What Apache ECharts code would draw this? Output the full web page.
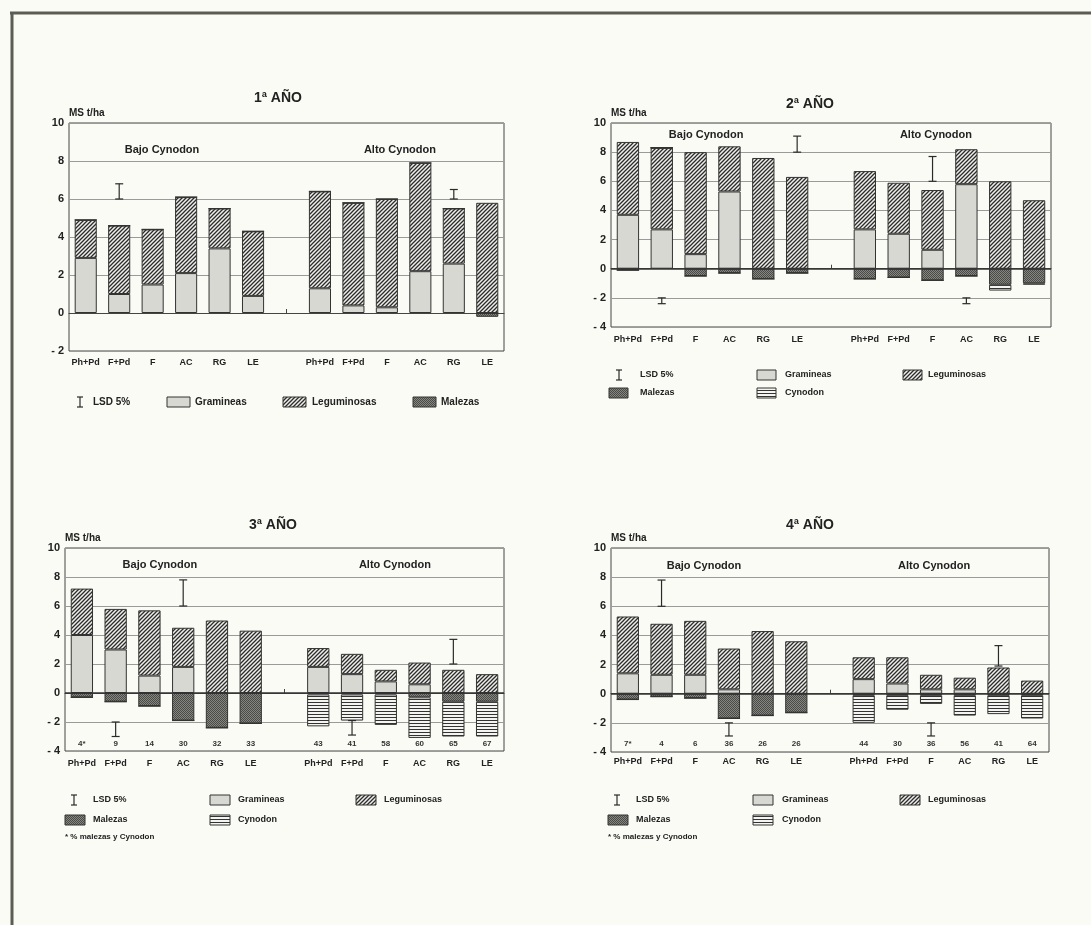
<!DOCTYPE html>
<html>
<head>
<meta charset="utf-8">
<script src="https://cdn.jsdelivr.net/npm/echarts@6/dist/echarts.min.js"></script>
<style>
  html, body { margin: 0; padding: 0; background: #fbfbf6; }
  #chart { width: 1091px; height: 925px; }
</style>
</head>
<body>
<div id="chart"></div>
<script>
// ---------- data ----------
const categories = ['Ph+Pd', 'F+Pd', 'F', 'AC', 'RG', 'LE', '', 'Ph+Pd', 'F+Pd', 'F', 'AC', 'RG', 'LE'];
const groupNames = ['Bajo Cynodon', 'Alto Cynodon'];

// 1º año (t/ha MS)
const gram1    = [2.9, 1.0, 1.5, 2.1, 3.4, 0.9, '-', 1.3, 0.4, 0.3, 2.2, 2.6, 0];
const legum1   = [2.0, 3.6, 2.9, 4.0, 2.1, 3.4, '-', 5.1, 5.4, 5.7, 5.7, 2.9, 5.8];
const malezas1 = [0, 0, 0, 0, 0, 0, '-', 0, 0, 0, 0, 0, -0.2];
const lsd1     = [[1, 6.0, 6.8], [11, 6.0, 6.5]];

// 2º año
const gram2    = [3.7, 2.7, 1.0, 5.3, 0, 0, '-', 2.7, 2.4, 1.3, 5.8, 0, 0];
const legum2   = [5.0, 5.6, 7.0, 3.1, 7.6, 6.3, '-', 4.0, 3.5, 4.1, 2.4, 6.0, 4.7];
const malezas2 = [-0.1, 0, -0.5, -0.3, -0.7, -0.3, '-', -0.7, -0.6, -0.8, -0.5, -1.1, -1.0];
const cynodon2 = [0, 0, 0, 0, 0, 0, '-', 0, 0, 0, 0, -0.4, -0.1];
const lsd2     = [[1, -2.4, -2.0], [5, 8.0, 9.1], [9, 6.0, 7.7], [10, -2.4, -2.0]];

// 3º año
const gram3    = [4.0, 3.0, 1.2, 1.8, 0, 0, '-', 1.8, 1.3, 0.8, 0.6, 0, 0];
const legum3   = [3.2, 2.8, 4.5, 2.7, 5.0, 4.3, '-', 1.3, 1.4, 0.8, 1.5, 1.6, 1.3];
const malezas3 = [-0.3, -0.6, -0.9, -1.9, -2.4, -2.1, '-', -0.1, -0.1, -0.1, -0.3, -0.6, -0.6];
const cynodon3 = [0, 0, 0, 0, 0, 0, '-', -2.2, -1.8, -2.1, -2.8, -2.4, -2.4];
const lsd3     = [[1, -3.0, -2.0], [3, 6.0, 7.8], [8, -2.9, -1.9], [11, 2.0, 3.7]];
const pct3     = ['4*', '9', '14', '30', '32', '33', '', '43', '41', '58', '60', '65', '67'];

// 4º año
const gram4    = [1.4, 1.3, 1.3, 0.3, 0, 0, '-', 1.0, 0.7, 0.3, 0.3, 0, 0];
const legum4   = [3.9, 3.5, 3.7, 2.8, 4.3, 3.6, '-', 1.5, 1.8, 1.0, 0.8, 1.8, 0.9];
const malezas4 = [-0.4, -0.2, -0.3, -1.7, -1.5, -1.3, '-', -0.1, -0.1, -0.1, -0.1, -0.1, -0.1];
const cynodon4 = [0, 0, 0, 0, 0, 0, '-', -1.9, -1.0, -0.6, -1.4, -1.3, -1.6];
const lsd4     = [[1, 6.0, 7.8], [3, -2.9, -2.0], [9, -2.9, -2.0], [11, 1.9, 3.3]];
const pct4     = ['7*', '4', '6', '36', '26', '26', '', '44', '30', '36', '56', '41', '64'];

const legendNames = { lsd: 'LSD 5%', gram: 'Gramineas', legum: 'Leguminosas', malezas: 'Malezas', cynodon: 'Cynodon' };
const footnote = '* % malezas y Cynodon';

// ---------- styles ----------
const FONT = '"Liberation Sans", Arial, Helvetica, sans-serif';
const INK = '#222';

function makeTile(w, h, draw) {
  const c = document.createElement('canvas');
  c.width = w; c.height = h;
  draw(c.getContext('2d'), w, h);
  return c;
}
// diagonal "/" hatching
const hatchTile = makeTile(4, 4, (g, w, h) => {
  g.fillStyle = '#eeeeea'; g.fillRect(0, 0, w, h);
  g.strokeStyle = '#2c2c2c'; g.lineWidth = 1.3;
  g.beginPath();
  g.moveTo(0, h); g.lineTo(w, 0);
  g.moveTo(-1, 1); g.lineTo(1, -1);
  g.moveTo(w - 1, h + 1); g.lineTo(w + 1, h - 1);
  g.stroke();
});
// dark stipple
const stippleTile = makeTile(2, 2, (g) => {
  g.fillStyle = '#858581'; g.fillRect(0, 0, 2, 2);
  g.fillStyle = '#4a4a46'; g.fillRect(0, 0, 1, 1); g.fillRect(1, 1, 1, 1);
});
// horizontal rules
const linesTile = makeTile(4, 3, (g, w, h) => {
  g.fillStyle = '#f4f4f0'; g.fillRect(0, 0, w, h);
  g.fillStyle = '#333'; g.fillRect(0, 0, w, 1);
});
const FILL = {
  gram: '#d8d8d3',
  legum: { image: hatchTile, repeat: 'repeat' },
  malezas: { image: stippleTile, repeat: 'repeat' },
  cynodon: { image: linesTile, repeat: 'repeat' }
};

// ---------- panel layout ----------
const panels = [
  { title: '1ª AÑO', tx: 278, ty: 98, grid: { left: 69, top: 123, width: 435, height: 228 }, yMin: -2,
    gram: gram1, legum: legum1, malezas: malezas1, cynodon: null, lsd: lsd1, pct: null,
    groupY: 8.6, groupPos: [2.28, 9.39], labelMargin: 7, zeroLine: false },
  { title: '2ª AÑO', tx: 810, ty: 104, grid: { left: 611, top: 123, width: 440, height: 204 }, yMin: -4,
    gram: gram2, legum: legum2, malezas: malezas2, cynodon: cynodon2, lsd: lsd2, pct: null,
    groupY: 9.2, groupPos: [2.31, 9.1], labelMargin: 8, zeroLine: true },
  { title: '3ª AÑO', tx: 273, ty: 525, grid: { left: 65, top: 548, width: 439, height: 203 }, yMin: -4,
    gram: gram3, legum: legum3, malezas: malezas3, cynodon: cynodon3, lsd: lsd3, pct: pct3, pctY: -3.5,
    groupY: 8.85, groupPos: [2.31, 9.27], labelMargin: 8, zeroLine: true },
  { title: '4ª AÑO', tx: 810, ty: 525, grid: { left: 611, top: 548, width: 438, height: 204 }, yMin: -4,
    gram: gram4, legum: legum4, malezas: malezas4, cynodon: cynodon4, lsd: lsd4, pct: pct4, pctY: -3.45,
    groupY: 8.8, groupPos: [2.26, 9.09], labelMargin: 5, zeroLine: true }
];

// ---------- render helpers ----------
function renderLSD(params, api) {
  const a = api.coord([api.value(0), api.value(1)]);
  const b = api.coord([api.value(0), api.value(2)]);
  const cap = 4;
  const st = { stroke: '#2a2a2a', lineWidth: 1.2 };
  return {
    type: 'group',
    children: [
      { type: 'line', shape: { x1: a[0], y1: a[1], x2: b[0], y2: b[1] }, style: st },
      { type: 'line', shape: { x1: a[0] - cap, y1: a[1], x2: a[0] + cap, y2: a[1] }, style: st },
      { type: 'line', shape: { x1: b[0] - cap, y1: b[1], x2: b[0] + cap, y2: b[1] }, style: st }
    ]
  };
}
function groupLabelRenderer(pos) {
  return function (params, api) {
    const i = params.dataIndex;
    const base = Math.floor(pos[i]);
    const pt = api.coord([base, api.value(1)]);
    const band = api.size([1, 0])[0];
    return {
      type: 'text', x: pt[0] + (pos[i] - base) * band, y: pt[1],
      style: { text: groupNames[i], fill: INK, font: 'bold 11px ' + FONT, align: 'center', verticalAlign: 'middle' }
    };
  };
}
function pctRenderer(labels) {
  return function (params, api) {
    const pt = api.coord([api.value(0), api.value(1)]);
    return {
      type: 'text', x: pt[0], y: pt[1],
      style: { text: labels[params.dataIndex], fill: '#333', font: 'bold 8px ' + FONT, align: 'center', verticalAlign: 'middle' }
    };
  };
}

const grids = [], xAxes = [], yAxes = [], series = [];
panels.forEach((p, k) => {
  grids.push(Object.assign({ show: true, borderColor: '#444', borderWidth: 1, backgroundColor: 'transparent' }, p.grid));
  xAxes.push({
    type: 'category', gridIndex: k, data: categories, boundaryGap: true,
    axisLine: { lineStyle: { color: '#444', width: 1 } },
    axisTick: { show: true, inside: true, length: 4, alignWithLabel: true, interval: 0, lineStyle: { color: '#444' } },
    axisLabel: { interval: 0, fontSize: 9, fontWeight: 'bold', color: INK, fontFamily: FONT, margin: p.labelMargin },
    splitLine: { show: false }
  });
  yAxes.push({
    type: 'value', gridIndex: k, min: p.yMin, max: 10, interval: 2,
    name: 'MS t/ha', nameLocation: 'end', nameGap: 5,
    nameTextStyle: { align: 'left', fontSize: 10, fontWeight: 'bold', color: INK, fontFamily: FONT },
    axisLine: { show: false }, axisTick: { show: false },
    splitLine: { lineStyle: { color: '#9a9a9a', width: 1 } },
    axisLabel: { fontSize: 11, fontWeight: 'bold', color: INK, fontFamily: FONT, margin: 5,
      formatter: v => (v < 0 ? '- ' + (-v) : String(v)) }
  });
  const stack = 'p' + k;
  const barBase = {
    type: 'bar', xAxisIndex: k, yAxisIndex: k, stack: stack, barWidth: '66%', animation: false,
    itemStyle: { borderColor: '#333', borderWidth: 1 }
  };
  const gramSeries = Object.assign({}, barBase, {
    name: legendNames.gram, data: p.gram,
    itemStyle: Object.assign({}, barBase.itemStyle, { color: FILL.gram })
  });
  if (p.zeroLine) {
    gramSeries.markLine = {
      silent: true, symbol: 'none', label: { show: false }, animation: false,
      lineStyle: { color: '#333', width: 1.6, type: 'solid' }, data: [{ yAxis: 0 }]
    };
  }
  series.push(gramSeries);
  series.push(Object.assign({}, barBase, {
    name: legendNames.legum, data: p.legum,
    itemStyle: Object.assign({}, barBase.itemStyle, { color: FILL.legum })
  }));
  series.push(Object.assign({}, barBase, {
    name: legendNames.malezas, data: p.malezas,
    itemStyle: Object.assign({}, barBase.itemStyle, { color: FILL.malezas })
  }));
  if (p.cynodon) {
    series.push(Object.assign({}, barBase, {
      name: legendNames.cynodon, data: p.cynodon,
      itemStyle: Object.assign({}, barBase.itemStyle, { color: FILL.cynodon })
    }));
  }
  series.push({
    type: 'custom', name: legendNames.lsd, xAxisIndex: k, yAxisIndex: k, animation: false, z: 5,
    renderItem: renderLSD, encode: { x: 0, y: [1, 2] }, data: p.lsd
  });
  series.push({
    type: 'custom', xAxisIndex: k, yAxisIndex: k, animation: false, silent: true,
    renderItem: groupLabelRenderer(p.groupPos), encode: { x: 0, y: 1 },
    data: p.groupPos.map(x => [Math.floor(x), p.groupY])
  });
  if (p.pct) {
    series.push({
      type: 'custom', xAxisIndex: k, yAxisIndex: k, animation: false, silent: true,
      renderItem: pctRenderer(p.pct), encode: { x: 0, y: 1 },
      data: p.pct.map((t, i) => [i, p.pctY])
    });
  }
});

// ---------- titles, legends, frame ----------
const graphic = [];
const frameStyle = { stroke: '#5c5c55', lineWidth: 3 };
graphic.push({ type: 'line', shape: { x1: 10, y1: 13, x2: 1091, y2: 13 }, style: frameStyle });
graphic.push({ type: 'line', shape: { x1: 12, y1: 12, x2: 12, y2: 925 }, style: frameStyle });

panels.forEach(p => {
  graphic.push({ type: 'text', x: p.tx, y: p.ty,
    style: { text: p.title, fill: INK, font: 'bold 14px ' + FONT, align: 'center', verticalAlign: 'middle' } });
});

function lTxt(x, y, text, size) {
  return { type: 'text', x: x, y: y, style: { text: text, fill: INK, font: 'bold ' + (size || 10) + 'px ' + FONT, verticalAlign: 'middle' } };
}
function lBox(x, y, w, fill) {
  return { type: 'rect', shape: { x: x, y: y - 5, width: w, height: 10 }, style: { fill: fill, stroke: '#333', lineWidth: 1 } };
}
function lLSD(x, y) {
  const st = { stroke: '#2a2a2a', lineWidth: 1.2 };
  return { type: 'group', children: [
    { type: 'line', shape: { x1: x, y1: y - 5, x2: x, y2: y + 5 }, style: st },
    { type: 'line', shape: { x1: x - 3, y1: y - 5, x2: x + 3, y2: y - 5 }, style: st },
    { type: 'line', shape: { x1: x - 3, y1: y + 5, x2: x + 3, y2: y + 5 }, style: st }
  ] };
}

// legend, 1º año (single row)
graphic.push(lLSD(80, 402), lTxt(93, 402, legendNames.lsd),
  lBox(167, 402, 23, FILL.gram), lTxt(195, 402, legendNames.gram),
  lBox(283, 402, 23, FILL.legum), lTxt(312, 402, legendNames.legum),
  lBox(413, 402, 23, FILL.malezas), lTxt(441, 402, legendNames.malezas));

// legend, 2º año
graphic.push(lLSD(619, 375), lTxt(640, 375, legendNames.lsd, 9),
  lBox(757, 375, 19, FILL.gram), lTxt(785, 375, legendNames.gram, 9),
  lBox(903, 375, 19, FILL.legum), lTxt(928, 375, legendNames.legum, 9),
  lBox(609, 393, 19, FILL.malezas), lTxt(640, 393, legendNames.malezas, 9),
  lBox(757, 393, 19, FILL.cynodon), lTxt(785, 393, legendNames.cynodon, 9));

// legends, 3º and 4º año
[[65, 210, 356, 93, 238, 384], [608, 753, 900, 636, 782, 928]].forEach(c => {
  const [bx1, bx2, bx3, tx1, tx2, tx3] = c;
  graphic.push(lLSD(bx1 + 9, 800), lTxt(tx1, 800, legendNames.lsd, 9),
    lBox(bx2, 800, 20, FILL.gram), lTxt(tx2, 800, legendNames.gram, 9),
    lBox(bx3, 800, 20, FILL.legum), lTxt(tx3, 800, legendNames.legum, 9),
    lBox(bx1, 820, 20, FILL.malezas), lTxt(tx1, 820, legendNames.malezas, 9),
    lBox(bx2, 820, 20, FILL.cynodon), lTxt(tx2, 820, legendNames.cynodon, 9),
    lTxt(bx1, 837, footnote, 8));
});

const chart = echarts.init(document.getElementById('chart'), null, { renderer: 'canvas' });
chart.setOption({
  backgroundColor: '#fbfbf6',
  animation: false,
  textStyle: { fontFamily: FONT },
  grid: grids,
  xAxis: xAxes,
  yAxis: yAxes,
  series: series,
  graphic: graphic
});
</script>
</body>
</html>
